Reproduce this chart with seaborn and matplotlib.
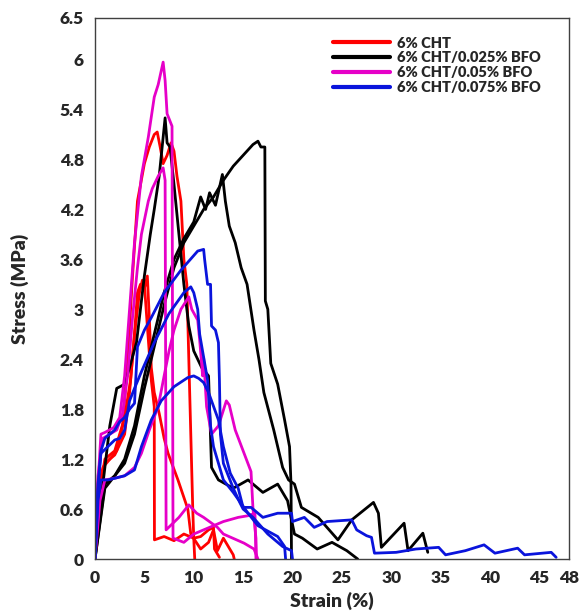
import matplotlib
matplotlib.use("Agg")
import matplotlib.pyplot as plt
import numpy as np
import pandas as pd
import seaborn as sns

# ---- data (strain %, stress MPa) ----
groups = ["6% CHT", "6% CHT/0.025% BFO", "6% CHT/0.05% BFO", "6% CHT/0.075% BFO"]
colors = ["#ff0000", "#000000", "#e600c8", "#0a14dc"]

r1_x = [0, 0.3, 0.8, 1.5, 2.2, 2.8, 3.3, 3.8, 4.3, 5.0, 5.5, 6.0, 6.3, 6.6, 6.9, 7.3, 7.7, 8.0, 8.3, 8.7,
        9.0, 9.2, 9.3, 9.5, 9.7, 9.9, 10.0, 10.1]
r1_y = [0, 0.8, 1.1, 1.2, 1.3, 1.6, 2.4, 3.4, 4.3, 4.75, 4.95, 5.1, 5.13, 4.95, 4.75, 4.85, 5.0, 4.9, 4.6, 4.3,
        3.6, 3.4, 3.3, 2.4, 1.5, 0.6, 0.25, 0.0]
r2_x = [0, 0.3, 1.0, 2.0, 3.0, 3.6, 4.0, 4.3, 4.6, 5.0, 5.3, 5.7, 6.0, 6.02, 7.0, 8.0, 9.0, 10.0, 10.7, 11.5,
        12.0, 12.1, 12.6]
r2_y = [0, 0.7, 1.2, 1.3, 1.7, 2.15, 2.7, 3.2, 3.3, 3.3, 2.8, 2.15, 1.83, 0.23, 0.27, 0.22, 0.3, 0.25, 0.27, 0.35,
        0.38, 0.12, 0.02]
r3_x = [0, 0.4, 1.0, 2.0, 3.0, 3.5, 4.0, 4.5, 4.8, 5.0, 5.3, 5.5, 5.7, 6.0, 6.5, 7.0, 7.4, 8.4, 9.4, 9.7, 10.7,
        11.5, 12.0, 12.4, 13.0, 13.5, 14.0, 14.1]
r3_y = [0, 0.9, 1.15, 1.25, 1.5, 2.0, 2.7, 3.2, 3.35, 3.25, 3.4, 2.9, 2.3, 2.0, 1.75, 1.45, 1.27, 0.95, 0.6, 0.3,
        0.12, 0.2, 0.35, 0.1, 0.25, 0.15, 0.05, 0.0]

k1_x = [0, 0.4, 1.0, 1.5, 2.2, 3.0, 3.5, 4.2, 5.0, 5.6, 6.0, 6.5, 7.1, 7.3, 7.6, 8.0, 8.5, 9.0, 9.5, 10.0,
        10.8, 11.5, 11.8, 12.5, 14.0, 15.5, 17.0, 18.5, 19.5, 20.2, 21.0, 22.5, 24.0, 25.5, 26.6]
k1_y = [0, 0.5, 1.1, 1.6, 2.05, 2.1, 2.3, 2.6, 3.4, 3.9, 4.2, 4.6, 5.3, 5.0, 4.95, 4.5, 3.9, 3.3, 2.8, 2.5,
        2.3, 2.2, 1.1, 0.95, 0.85, 0.95, 0.8, 0.9, 0.7, 0.3, 0.25, 0.12, 0.2, 0.1, 0.0]
k2_x = [0, 1.0, 2.0, 3.0, 4.0, 5.0, 6.0, 7.0, 8.0, 9.0, 10.0, 10.7, 11.2, 11.6, 12.2, 12.9, 13.2, 13.6, 14.2,
        14.8, 15.4, 16.1, 16.6, 17.1, 18.1, 19.0, 19.6, 20.2, 20.9, 22.6, 24.6, 26.0, 28.2, 28.7, 29.0, 31.3,
        31.7, 33.2, 33.7]
k2_y = [0, 0.9, 1.0, 1.2, 1.6, 2.2, 2.7, 3.2, 3.6, 3.85, 4.05, 4.35, 4.2, 4.4, 4.25, 4.62, 4.3, 4.0, 3.8,
        3.5, 3.3, 2.75, 2.4, 2.0, 1.55, 1.1, 0.95, 0.9, 0.62, 0.5, 0.23, 0.47, 0.68, 0.55, 0.14, 0.43,
        0.1, 0.31, 0.08]
k3_x = [0, 1.0, 2.0, 3.0, 4.0, 5.0, 6.0, 7.0, 8.0, 9.0, 10.0, 11.0, 12.0, 13.0, 14.0, 15.0, 16.0, 16.5, 16.8,
        17.2, 17.25, 17.5, 17.8, 18.5, 19.2, 19.7, 19.85, 19.9]
k3_y = [0, 0.85, 1.0, 1.15, 1.5, 2.05, 2.55, 3.05, 3.5, 3.8, 4.0, 4.2, 4.35, 4.55, 4.72, 4.85, 4.98, 5.02, 4.95,
        4.95, 3.1, 3.0, 2.35, 2.1, 1.67, 1.35, 0.9, 0.0]

m1_x = [0, 0.3, 0.6, 1.0, 1.9, 2.5, 3.0, 3.5, 4.0, 4.7, 5.4, 6.0, 6.4, 6.9, 7.1, 7.3, 7.8, 7.9, 9.0, 10.0,
        11.0, 12.0, 13.0, 14.5, 15.5, 16.2, 16.3]
m1_y = [0, 0.9, 1.5, 1.52, 1.58, 1.7, 2.2, 3.0, 3.8, 4.6, 5.07, 5.55, 5.7, 5.97, 5.75, 5.35, 5.2, 0.25, 0.2, 0.3,
        0.35, 0.4, 0.45, 0.5, 0.52, 0.55, 0.0]
m2_x = [0, 0.3, 0.8, 1.5, 2.2, 2.8, 3.3, 3.8, 4.3, 4.7, 5.4, 5.8, 6.4, 6.9, 7.1, 7.2, 8.5, 9.5, 10.3, 11.0,
        12.4, 13.0, 15.1, 16.1, 16.5]
m2_y = [0, 1.0, 1.45, 1.5, 1.55, 1.75, 2.2, 2.9, 3.5, 3.9, 4.3, 4.45, 4.6, 4.7, 4.55, 0.35, 0.5, 0.65, 0.55, 0.5,
        0.38, 0.3, 0.19, 0.12, 0.0]
m3_x = [0, 0.5, 1.0, 2.0, 3.0, 4.0, 4.7, 5.5, 6.4, 7.0, 7.5, 8.0, 8.7, 9.5, 9.8, 10.4, 10.6, 10.9, 11.0, 11.3,
        11.8, 12.5, 13.3, 13.6, 14.2, 15.0, 15.8, 16.0, 16.3, 16.35]
m3_y = [0, 0.7, 0.95, 0.97, 1.0, 1.1, 1.27, 1.55, 1.83, 2.2, 2.5, 2.75, 3.0, 3.15, 3.0, 2.87, 2.63, 2.2, 2.42,
        1.83, 1.5, 1.6, 1.9, 1.85, 1.55, 1.3, 1.05, 0.6, 0.25, 0.0]

b1_x = [0, 0.3, 0.6, 1.0, 1.5, 2.0, 2.5, 3.0, 3.5, 4.0, 4.3, 5.0, 5.7, 7.0, 8.7, 10.4, 11.0, 11.1, 11.4, 11.7,
        11.8, 12.2, 12.5, 12.6, 12.7, 13.0, 13.5, 14.0, 14.7, 15.0, 16.0, 17.5, 19.0, 19.9, 20.0]
b1_y = [0, 0.8, 1.3, 1.45, 1.5, 1.55, 1.65, 1.7, 1.8, 1.87, 2.55, 2.75, 2.9, 3.2, 3.47, 3.7, 3.72, 3.6, 3.3, 3.3,
        2.8, 2.75, 2.6, 2.15, 1.5, 1.15, 1.0, 0.85, 0.67, 0.6, 0.5, 0.3, 0.15, 0.1, 0.0]
b2_x = [0, 0.3, 0.6, 1.3, 2.0, 2.5, 3.0, 3.5, 4.0, 4.7, 6.0, 7.5, 9.0, 9.7, 10.0, 10.4, 10.6, 11.4, 11.7, 12.0,
        13.0, 14.0, 15.5, 16.5, 18.5, 19.2, 19.3]
b2_y = [0, 0.9, 1.27, 1.35, 1.43, 1.45, 1.55, 1.9, 2.05, 2.25, 2.6, 2.95, 3.2, 3.27, 3.2, 3.0, 2.7, 2.15, 1.6,
        1.35, 0.95, 0.8, 0.55, 0.4, 0.27, 0.15, 0.0]
b3_x = [0, 0.3, 0.6, 1.3, 2.0, 3.0, 4.0, 4.7, 5.7, 6.7, 8.0, 9.4, 10.0, 10.5, 11.0, 11.5, 12.5, 13.0, 13.7, 14.5,
        15.0, 15.8, 17.0, 18.5, 19.9, 20.0, 21.2, 22.2, 23.5, 26.0, 26.5, 27.5, 28.0, 28.3, 30.5, 32.5, 34.8,
        35.5, 37.5, 39.4, 40.5, 42.8, 43.5, 46.2, 46.7]
b3_y = [0, 0.7, 0.95, 0.95, 0.97, 1.0, 1.07, 1.35, 1.67, 1.9, 2.07, 2.18, 2.2, 2.17, 2.12, 2.0, 1.67, 1.35, 1.03,
        0.85, 0.62, 0.62, 0.5, 0.55, 0.55, 0.45, 0.5, 0.38, 0.45, 0.47, 0.35, 0.28, 0.26, 0.07, 0.08, 0.12, 0.14,
        0.05, 0.1, 0.17, 0.07, 0.13, 0.05, 0.08, 0.02]

curves = [
    ("r1", groups[0], r1_x, r1_y), ("r2", groups[0], r2_x, r2_y), ("r3", groups[0], r3_x, r3_y),
    ("k1", groups[1], k1_x, k1_y), ("k2", groups[1], k2_x, k2_y), ("k3", groups[1], k3_x, k3_y),
    ("m1", groups[2], m1_x, m1_y), ("m2", groups[2], m2_x, m2_y), ("m3", groups[2], m3_x, m3_y),
    ("b1", groups[3], b1_x, b1_y), ("b2", groups[3], b2_x, b2_y), ("b3", groups[3], b3_x, b3_y),
]

rows = []
for name, grp, xs, ys in curves:
    for x, y in zip(xs, ys):
        rows.append({"sample": name, "group": grp, "Strain": x, "Stress": y})
df = pd.DataFrame(rows)

sns.set_style("white")
plt.rcParams['font.family'] = ['Lato', 'DejaVu Sans']

fig = plt.figure(figsize=(5.82, 6.13), dpi=100)
ax = fig.add_axes([95 / 582, 54 / 613, 474 / 582, 541 / 613])

sns.lineplot(data=df, x="Strain", y="Stress", hue="group", units="sample", estimator=None, sort=False,
             palette=dict(zip(groups, colors)), hue_order=groups, linewidth=2.0, ax=ax)

ax.set_xlim(0, 48)
ax.set_ylim(0, 6.5)

xt = [0, 5, 10, 15, 20, 25, 30, 35, 40, 45, 48]
yt = [0, 0.6, 1.2, 1.8, 2.4, 3.0, 3.6, 4.2, 4.8, 5.4, 6.0, 6.5]
ax.set_xticks(xt)
ax.set_xticklabels([f"{v:g}" for v in xt], fontweight="heavy", fontsize=12.5)
ax.set_yticks(yt)
ax.set_yticklabels([f"{v:g}" for v in yt], fontweight="heavy", fontsize=12.5)
ax.set_xticks(np.arange(2.5, 48, 5), minor=True)
ax.set_yticks(np.arange(0.3, 6.5, 0.6), minor=True)

ax.tick_params(which="major", direction="in", length=6, width=1, color="#505050", pad=8)
ax.tick_params(which="minor", direction="in", length=4, width=1.2, color="#3aa6c0")

for sp in ax.spines.values():
    sp.set_color("#404040")
    sp.set_linewidth(1.0)

ax.set_xlabel("Strain (%)", fontsize=14, fontweight="heavy", labelpad=4)
ax.set_ylabel("Stress (MPa)", fontsize=14, fontweight="heavy", labelpad=22)

handles, labels = ax.get_legend_handles_labels()
leg = ax.legend(handles, labels, loc="upper left", bbox_to_anchor=(0.475, 0.99), frameon=False,
                handlelength=3.9, handletextpad=0.5, labelspacing=0.12,
                prop={"weight": "heavy", "size": 10.5, "family": ["Lato", "DejaVu Sans"]})
for line in leg.get_lines():
    line.set_linewidth(3.0)

fig.savefig("out.png", dpi=100)
